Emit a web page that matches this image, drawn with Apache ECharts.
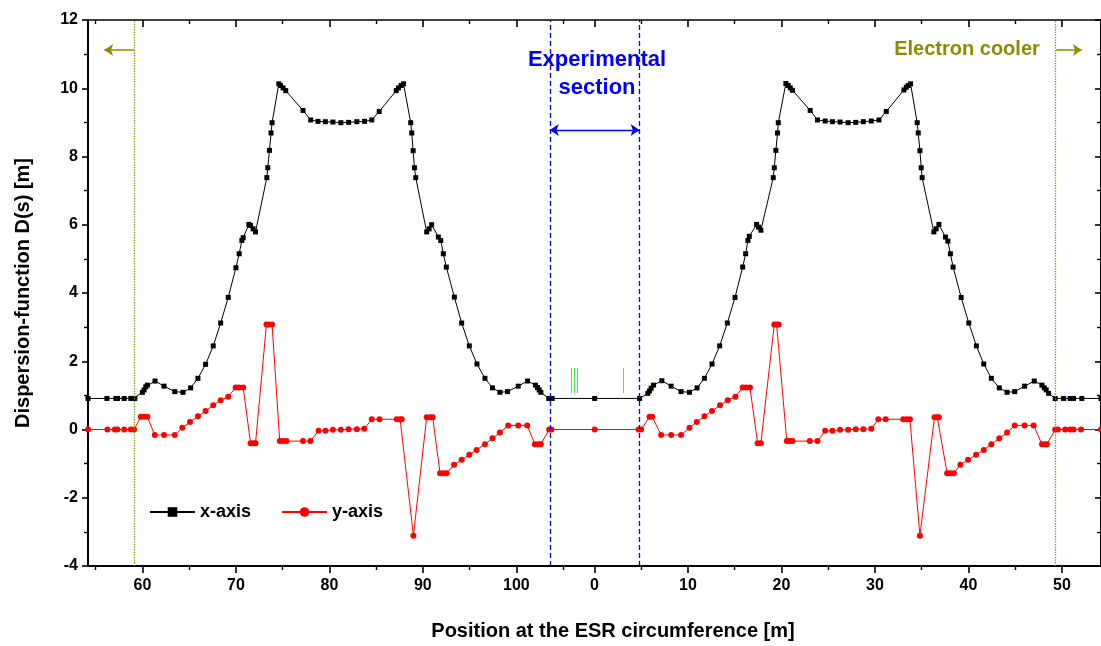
<!DOCTYPE html>
<html>
<head>
<meta charset="utf-8">
<title>ESR dispersion function</title>
<script src="https://cdn.jsdelivr.net/npm/echarts@6.0.0/dist/echarts.min.js"></script>
<style>
  html, body { margin: 0; padding: 0; background: #fff; }
  #main { width: 1101px; height: 646px; }
</style>
</head>
<body>
<div id="main"></div>
<script>
// positions are "unrolled" along the ring: after 108.36 m (one turn) the axis
// continues, so 108.36 -> label 0, 118.36 -> label 10 ...
var C = 108.36;

// x-axis dispersion (black squares)
var posX = [
  54.18, 56.20, 57.16, 57.33, 58.05, 58.76, 59.04, 59.19, 60.00, 60.18,
  60.36, 60.53, 61.35, 62.31, 63.46, 64.34, 65.16, 65.94, 66.76, 67.58,
  68.37, 69.18, 70.00, 70.35, 70.64, 70.78, 71.39, 71.57, 71.84, 72.10,
  73.31, 73.41, 73.59, 73.76, 73.87, 74.59, 74.77, 75.05, 75.33, 77.18,
  78.00, 78.78, 79.57, 80.38, 81.23, 82.06, 82.94, 83.76, 84.54, 85.33,
  87.15, 87.39, 87.68, 87.93, 88.70, 88.81, 88.96, 89.10, 89.24, 90.41,
  90.67, 90.94, 91.66, 91.91, 92.19, 92.51, 93.37, 94.15, 94.97, 95.79,
  96.64, 97.45, 98.24, 99.06, 100.20, 101.19, 102.04, 102.26, 102.44, 102.62,
  103.47, 103.83, 108.38, 113.18, 114.07, 114.25, 114.42, 114.68, 115.56, 116.56,
  117.62, 118.52, 119.33, 120.12, 120.93, 121.75, 122.57, 123.39, 124.21, 124.53,
  124.77, 124.92, 125.70, 125.91, 126.16, 127.48, 127.59, 127.76, 127.94, 128.02,
  128.83, 129.08, 129.30, 129.54, 131.43, 132.21, 133.03, 133.81, 134.63, 135.49,
  136.30, 137.12, 137.97, 138.79, 139.57, 141.46, 141.71, 141.92, 142.17, 142.88,
  142.99, 143.17, 143.31, 143.41, 144.66, 144.91, 145.20, 145.90, 146.16, 146.43,
  146.72, 147.58, 148.40, 149.21, 150.00, 150.81, 151.66, 152.49, 153.31, 154.37,
  155.40, 156.22, 156.47, 156.68, 156.93, 157.64, 158.54, 159.24, 159.60, 160.49,
  162.54
];
var dispX = [
  0.91, 0.91, 0.91, 0.91, 0.91, 0.91, 0.91, 0.91, 1.09, 1.16,
  1.25, 1.30, 1.42, 1.27, 1.11, 1.09, 1.22, 1.50, 1.91, 2.45,
  3.12, 3.87, 4.74, 5.15, 5.54, 5.62, 6.01, 5.98, 5.88, 5.79,
  7.38, 7.67, 8.18, 8.69, 8.99, 10.13, 10.08, 10.01, 9.93, 9.35,
  9.07, 9.03, 9.02, 9.01, 8.99, 9.00, 9.02, 9.03, 9.07, 9.32,
  9.93, 10.01, 10.08, 10.13, 8.99, 8.69, 8.17, 7.67, 7.38, 5.79,
  5.88, 6.00, 5.64, 5.54, 5.15, 4.76, 3.88, 3.12, 2.45, 1.92,
  1.50, 1.22, 1.09, 1.11, 1.27, 1.42, 1.30, 1.23, 1.16, 1.09,
  0.91, 0.91, 0.91, 0.91, 1.06, 1.13, 1.21, 1.30, 1.43, 1.27,
  1.11, 1.09, 1.22, 1.50, 1.92, 2.45, 3.12, 3.87, 4.76, 5.15,
  5.54, 5.66, 6.01, 5.93, 5.84, 7.38, 7.67, 8.18, 8.69, 8.99,
  10.14, 10.08, 10.01, 9.94, 9.35, 9.07, 9.04, 9.02, 9.01, 8.99,
  9.00, 9.02, 9.04, 9.07, 9.32, 9.95, 10.03, 10.08, 10.13, 8.99,
  8.69, 8.17, 7.67, 7.38, 5.79, 5.88, 6.01, 5.64, 5.52, 5.15,
  4.76, 3.87, 3.12, 2.45, 1.92, 1.50, 1.22, 1.09, 1.11, 1.27,
  1.42, 1.30, 1.22, 1.16, 1.06, 0.91, 0.91, 0.91, 0.91, 0.91,
  0.91
];

// y-axis dispersion (red circles)
var posY = [
  54.18, 56.26, 57.05, 57.33, 58.05, 58.76, 59.11, 59.83, 60.18, 60.53,
  61.32, 62.31, 63.46, 64.27, 65.09, 65.94, 66.76, 67.58, 68.37, 69.18,
  69.97, 70.32, 70.78, 71.57, 71.84, 72.10, 73.27, 73.52, 73.87, 74.69,
  75.05, 75.41, 77.18, 77.97, 78.85, 79.57, 80.38, 81.23, 82.06, 82.94,
  83.73, 84.54, 85.36, 87.21, 87.57, 87.74, 88.99, 90.41, 90.77, 91.05,
  91.84, 92.19, 92.55, 93.34, 94.15, 94.97, 95.75, 96.64, 97.45, 98.24,
  99.13, 100.20, 101.16, 101.98, 102.33, 102.62, 103.51, 103.75, 108.38, 113.08,
  113.35, 114.25, 114.53, 115.49, 116.56, 117.62, 118.52, 119.30, 120.12, 120.93,
  121.79, 122.61, 123.43, 124.21, 124.56, 124.99, 125.81, 126.16, 127.59, 127.84,
  128.05, 128.93, 129.25, 129.54, 131.39, 132.21, 133.03, 133.81, 134.63, 135.49,
  136.30, 137.12, 137.97, 138.72, 139.50, 141.39, 141.74, 142.10, 143.17, 144.73,
  145.02, 145.20, 146.08, 146.43, 146.80, 147.50, 148.32, 149.18, 150.00, 150.81,
  151.66, 152.49, 153.31, 154.37, 155.33, 156.22, 156.51, 156.75, 157.64, 157.93,
  158.71, 159.24, 159.60, 160.41, 162.54
];
var dispY = [
  0, 0, 0, 0, 0, 0, 0, 0.37, 0.37, 0.37,
  -0.16, -0.16, -0.16, 0.05, 0.22, 0.39, 0.54, 0.71, 0.86, 0.96,
  1.23, 1.23, 1.23, -0.40, -0.40, -0.40, 3.08, 3.08, 3.08, -0.34,
  -0.34, -0.34, -0.34, -0.34, -0.04, -0.04, -0.01, -0.01, 0.01, 0.01,
  0.02, 0.30, 0.30, 0.30, 0.30, 0.30, -3.11, 0.36, 0.36, 0.36,
  -1.28, -1.28, -1.28, -1.03, -0.89, -0.74, -0.60, -0.43, -0.26, -0.09,
  0.12, 0.12, 0.12, -0.43, -0.43, -0.43, 0, 0, 0, 0,
  0, 0.37, 0.37, -0.16, -0.16, -0.16, 0.05, 0.22, 0.39, 0.54,
  0.71, 0.86, 0.96, 1.23, 1.23, 1.23, -0.40, -0.40, 3.08, 3.08,
  3.08, -0.34, -0.34, -0.34, -0.34, -0.34, -0.04, -0.04, -0.01, -0.01,
  0.01, 0.01, 0.02, 0.30, 0.30, 0.30, 0.30, 0.30, -3.11, 0.36,
  0.36, 0.36, -1.28, -1.28, -1.28, -1.03, -0.89, -0.74, -0.60, -0.43,
  -0.26, -0.09, 0.12, 0.12, 0.12, -0.43, -0.43, -0.43, 0, 0,
  0, 0, 0, 0, 0
];

// ticks of the position axis (unrolled) and what is written under them
var xTickPos = [60, 70, 80, 90, 100, 108.36, 118.36, 128.36, 138.36, 148.36, 158.36];
var xTickLabels = ['60', '70', '80', '90', '100', '0', '10', '20', '30', '40', '50'];
var xMinorPos = [55, 65, 75, 85, 95, 105, 113.36, 123.36, 133.36, 143.36, 153.36];

// markers
var coolerPos = [59.11, 157.64];        // electron cooler boundaries
var expSection = [103.58, 113.18];      // experimental section
var greenMarks = [105.85, 106.20, 106.55, 111.40];
var greenRange = [1.07, 1.80];

var FONT = 'Liberation Sans, Arial, sans-serif';
var OLIVE = '#8c8c00';

function pairs(a, b) {
  return a.map(function (v, i) { return [v, b[i]]; });
}
function tickLabel(v) {
  var best = 0;
  for (var i = 0; i < xTickPos.length; i++) {
    if (Math.abs(xTickPos[i] - v) < Math.abs(xTickPos[best] - v)) best = i;
  }
  return xTickLabels[best];
}

var myChart = echarts.init(document.getElementById('main'));

var marks = [
  { xAxis: coolerPos[0], lineStyle: { color: OLIVE, type: 'dotted', width: 1.3 } },
  { xAxis: coolerPos[1], lineStyle: { color: OLIVE, type: 'dotted', width: 1.3 } },
  { xAxis: expSection[0], lineStyle: { color: '#0000ff', type: [5, 3], width: 1.3 } },
  { xAxis: expSection[1], lineStyle: { color: '#0000ff', type: [5, 3], width: 1.3 } },
  [
    { coord: [expSection[0], 8.78], symbol: 'arrow', lineStyle: { color: '#0000ff', type: 'solid', width: 1.3 } },
    { coord: [expSection[1], 8.78], symbol: 'arrow' }
  ],
  [
    { coord: [coolerPos[0], 11.12], symbol: 'none', lineStyle: { color: OLIVE, type: 'solid', width: 1.5 } },
    { coord: [55.91, 11.12], symbol: 'arrow' }
  ],
  [
    { coord: [coolerPos[1] + 0.1, 11.12], symbol: 'none', lineStyle: { color: OLIVE, type: 'solid', width: 1.5 } },
    { coord: [160.49, 11.12], symbol: 'arrow' }
  ]
];
greenMarks.forEach(function (g) {
  marks.push([
    { coord: [g, greenRange[0]], symbol: 'none', lineStyle: { color: '#3fef3f', type: 'solid', width: 1 } },
    { coord: [g, greenRange[1]], symbol: 'none' }
  ]);
});

var axisCommon = {
  type: 'value',
  min: 54.18,
  max: 54.18 + C,
  splitLine: { show: false },
  axisLine: { show: true, onZero: false, lineStyle: { color: '#000', width: 2 } }
};

option = {
  animation: false,
  backgroundColor: '#fff',
  grid: { left: 88, top: 20, width: 1016, height: 546, containLabel: false },
  legend: {
    data: ['x-axis', 'y-axis'],
    left: 144, top: 498,
    itemWidth: 45, itemHeight: 12, itemGap: 30,
    textStyle: { fontSize: 18, fontWeight: 'bold', color: '#000', fontFamily: FONT }
  },
  xAxis: [
    Object.assign({}, axisCommon, {
      position: 'bottom',
      axisTick: { show: true, customValues: xTickPos, length: 7, lineStyle: { width: 1.6, color: '#000' } },
      axisLabel: {
        show: true, customValues: xTickPos, margin: 12,
        formatter: tickLabel,
        fontSize: 16, fontWeight: 'bold', color: '#000', fontFamily: FONT
      }
    }),
    Object.assign({}, axisCommon, {
      position: 'bottom',
      axisLine: { show: false, onZero: false },
      axisTick: { show: true, customValues: xMinorPos, length: 4, lineStyle: { width: 1.4, color: '#000' } },
      axisLabel: { show: false }
    }),
    Object.assign({}, axisCommon, {
      position: 'top',
      axisLine: { show: true, onZero: false, lineStyle: { color: '#000', width: 1.5 } },
      axisTick: { show: true, inside: true, customValues: xTickPos, length: 7, lineStyle: { width: 1.6, color: '#000' } },
      axisLabel: { show: false }
    }),
    Object.assign({}, axisCommon, {
      position: 'top',
      axisLine: { show: false, onZero: false },
      axisTick: { show: true, inside: true, customValues: xMinorPos, length: 4, lineStyle: { width: 1.4, color: '#000' } },
      axisLabel: { show: false }
    })
  ],
  yAxis: [
    {
      type: 'value', position: 'left',
      min: -4, max: 12, interval: 2,
      name: 'Dispersion-function D(s) [m]',
      nameLocation: 'middle', nameGap: 55,
      nameTextStyle: { fontSize: 20, fontWeight: 'bold', color: '#000', fontFamily: FONT },
      splitLine: { show: false },
      axisLine: { show: true, onZero: false, lineStyle: { color: '#000', width: 2 } },
      axisTick: { show: true, length: 6, lineStyle: { width: 1.6, color: '#000' } },
      minorTick: { show: true, splitNumber: 2, length: 4, lineStyle: { width: 1.4, color: '#000' } },
      axisLabel: { margin: 10, fontSize: 16, fontWeight: 'bold', color: '#000', fontFamily: FONT }
    },
    {
      type: 'value', position: 'right',
      min: -4, max: 12, interval: 2,
      splitLine: { show: false },
      axisLine: { show: true, onZero: false, lineStyle: { color: '#000', width: 2 } },
      axisTick: { show: true, inside: true, length: 6, lineStyle: { width: 1.6, color: '#000' } },
      minorTick: { show: true, splitNumber: 2, length: 4, lineStyle: { width: 1.4, color: '#000' } },
      axisLabel: { show: false }
    }
  ],
  graphic: [
    {
      type: 'text', x: 613, y: 631,
      style: { text: 'Position at the ESR circumference [m]', font: 'bold 20px ' + FONT, fill: '#000', align: 'center', verticalAlign: 'middle' }
    },
    {
      type: 'text', x: 597, y: 60,
      style: { text: 'Experimental', font: 'bold 22px ' + FONT, fill: '#0000ff', align: 'center', verticalAlign: 'middle' }
    },
    {
      type: 'text', x: 597, y: 88,
      style: { text: 'section', font: 'bold 22px ' + FONT, fill: '#0000ff', align: 'center', verticalAlign: 'middle' }
    },
    {
      type: 'text', x: 967, y: 49,
      style: { text: 'Electron cooler', font: 'bold 20px ' + FONT, fill: OLIVE, align: 'center', verticalAlign: 'middle' }
    }
  ],
  series: [
    {
      name: 'x-axis', type: 'line',
      data: pairs(posX, dispX),
      symbol: 'rect', symbolSize: 5, showAllSymbol: true,
      itemStyle: { color: '#000' },
      lineStyle: { color: '#000', width: 1 },
      z: 3
    },
    {
      name: 'y-axis', type: 'line',
      data: pairs(posY, dispY),
      symbol: 'circle', symbolSize: 6, showAllSymbol: true,
      itemStyle: { color: '#ff0000' },
      lineStyle: { color: '#ff0000', width: 1 },
      z: 3
    },
    {
      name: 'marks', type: 'line', data: [],
      silent: true, z: 2,
      markLine: {
        silent: true,
        symbol: 'none',
        symbolSize: 9,
        label: { show: false },
        emphasis: { disabled: true },
        data: marks
      }
    }
  ]
};

myChart.setOption(option);
</script>
</body>
</html>
